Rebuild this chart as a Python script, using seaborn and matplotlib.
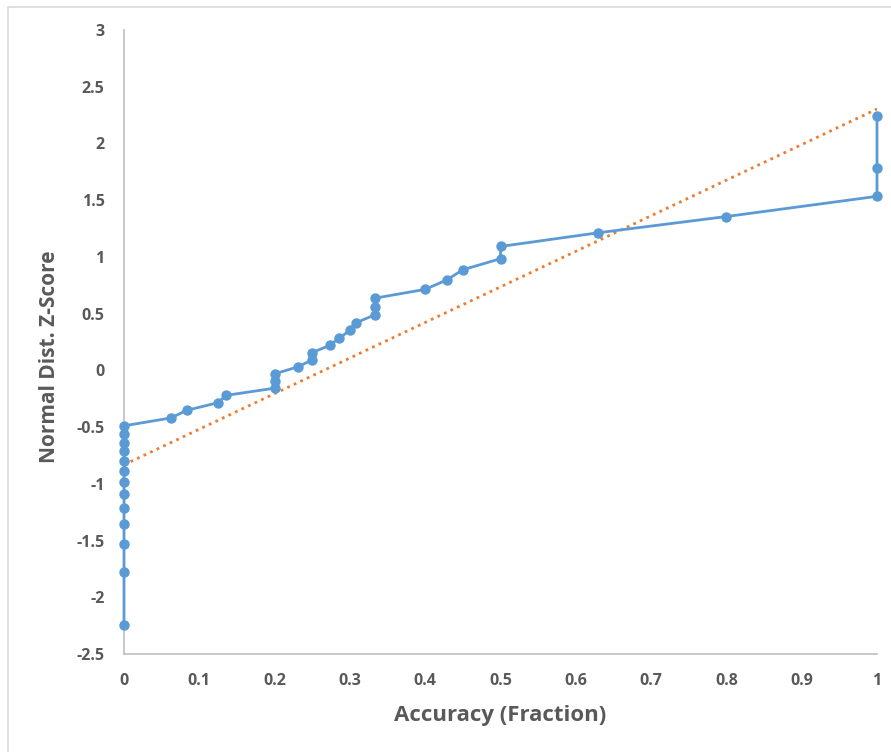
import numpy as np
import pandas as pd
import seaborn as sns
import matplotlib.pyplot as plt
from matplotlib.patches import Rectangle

# accuracy fraction per rank (sorted by z-score)
accuracy = [0, 0, 0, 0, 0, 0, 0, 0, 0, 0, 0, 0, 0,
            0.0625, 0.0833, 0.125, 0.136, 0.2, 0.2, 0.2, 0.231, 0.25, 0.25,
            0.273, 0.286, 0.3, 0.308, 0.333, 0.333, 0.333, 0.4, 0.429, 0.45,
            0.5, 0.5, 0.63, 0.8, 1, 1, 1]

# normal distribution z-scores
z_score = [-2.241, -1.780, -1.534, -1.356, -1.213, -1.092, -0.984, -0.887,
           -0.798, -0.714, -0.636, -0.561, -0.489, -0.419, -0.352, -0.285,
           -0.220, -0.157, -0.094, -0.031, 0.031, 0.094, 0.157, 0.220,
           0.285, 0.352, 0.419, 0.489, 0.561, 0.636, 0.714, 0.798,
           0.887, 0.984, 1.092, 1.213, 1.356, 1.534, 1.780, 2.241]

x_ticks = [0, 0.1, 0.2, 0.3, 0.4, 0.5, 0.6, 0.7, 0.8, 0.9, 1]
y_ticks = [-2.5, -2, -1.5, -1, -0.5, 0, 0.5, 1, 1.5, 2, 2.5, 3]

df = pd.DataFrame({'accuracy': accuracy, 'z': z_score})

sns.set_style('white')
plt.rcParams['font.family'] = ['Open Sans', 'DejaVu Sans']

fig = plt.figure(figsize=(8.91, 7.52), dpi=100)
ax = fig.add_axes([124 / 891, 98 / 752, 753 / 891, 624 / 752])

blue = '#5b9bd5'
orange = '#ed7d31'
grey = '#595959'

# linear trendline (least squares), dotted
sns.regplot(data=df, x='accuracy', y='z', scatter=False, ci=None, ax=ax,
            line_kws=dict(color=orange, linestyle=(0, (1, 1.6)), linewidth=2))

# data series joined in rank order
sns.lineplot(data=df, x='accuracy', y='z', sort=False, ax=ax, color=blue,
             linewidth=2, marker='o', markersize=7.5, markeredgewidth=0,
             estimator=None, zorder=3, clip_on=False)

ax.set_xlim(0, 1)
ax.set_ylim(-2.5, 3)
ax.set_xticks(x_ticks)
ax.set_yticks(y_ticks)
ax.set_xticklabels([f'{t:g}' for t in x_ticks])
ax.set_yticklabels([f'{t:g}' for t in y_ticks])
ax.tick_params(axis='both', length=0, labelsize=11.5, labelcolor=grey)
for lab in ax.get_xticklabels() + ax.get_yticklabels():
    lab.set_fontweight('bold')
ax.tick_params(axis='x', pad=14)
ax.tick_params(axis='y', pad=14)

for side in ['top', 'right']:
    ax.spines[side].set_visible(False)
for side in ['left', 'bottom']:
    ax.spines[side].set_color('#bfbfbf')
    ax.spines[side].set_linewidth(1.2)

ax.set_xlabel('Accuracy (Fraction)', fontsize=16, fontweight='bold',
              color=grey, labelpad=11)
ax.set_ylabel('Normal Dist. Z-Score', fontsize=15, fontweight='bold',
              color=grey)
ax.yaxis.set_label_coords(-0.085, 0.476)

# chart border (right and bottom edges fall outside the picture)
fig.patches.append(Rectangle((8 / 891, -0.05), 1.0, 1.05 - 7 / 752,
                             transform=fig.transFigure, fill=False,
                             edgecolor='#d9d9d9', linewidth=1.2))

fig.savefig('out.png', dpi=100)
